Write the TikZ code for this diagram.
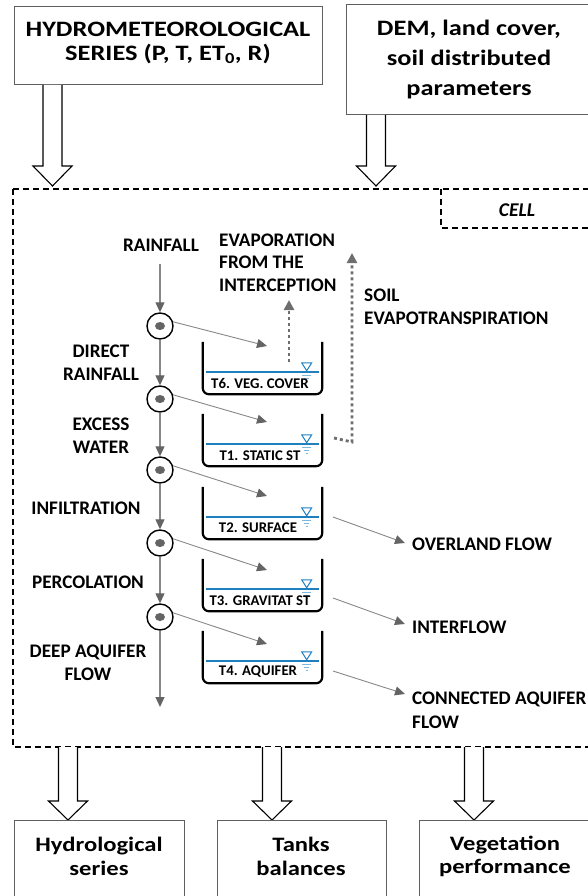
\documentclass[tikz,border=0pt]{standalone}
\usepackage{fontspec}
\setmainfont{Carlito}
\newfontfamily\widefont[FakeStretch=1.2]{Carlito}
\usetikzlibrary{arrows.meta}
\definecolor{flowgray}{RGB}{135,135,135}
\definecolor{headgray}{RGB}{100,100,100}
\definecolor{dotgray}{RGB}{110,110,110}
\definecolor{boxgray}{RGB}{95,95,95}
\definecolor{water}{RGB}{31,128,192}
\definecolor{lightwater}{RGB}{120,185,225}
\tikzset{
  lbl/.style={font=\bfseries\fontsize{19.2}{22.5}\selectfont, align=center, inner sep=0pt},
  biglbl/.style={font=\widefont\bfseries\fontsize{22}{24}\selectfont, align=center, inner sep=0pt},
  outlbl/.style={font=\widefont\bfseries\fontsize{20.5}{23.5}\selectfont, align=center, inner sep=0pt},
  tanklbl/.style={font=\bfseries\fontsize{14.8}{15}\selectfont, inner sep=0pt},
  flow/.style={draw=flowgray, line width=1.1pt, -{Triangle[length=10pt,width=9pt,color=headgray]}},
  dots/.style={draw=dotgray, line width=2.8pt, dash pattern=on 3pt off 3pt, -{Triangle[length=10pt,width=10pt,color=dotgray]}},
  junction/.style={circle, draw=black, line width=1.4pt, minimum size=26pt, inner sep=0pt, fill=white},
  tankbody/.style={minimum width=119pt, minimum height=52pt, inner sep=0pt, draw=none},
  tankwall/.style={draw=black, line width=2.2pt, rounded corners=6pt},
  hollow/.style={draw=black, line width=1.1pt, fill=white},
  iobox/.style={draw=boxgray, line width=1pt, fill=white},
  cellline/.style={draw=black, line width=1.4pt, dash pattern=on 6pt off 4pt}
}
\newcommand\hollowdown[4]{%
  \draw[hollow] (#1-9.5,#2) -- (#1-9.5,#3) -- (#1-19.5,#3) -- (#1,#4) -- (#1+19.5,#3) -- (#1+9.5,#3) -- (#1+9.5,#2);}
\newcommand\waterlevel[1]{%
  \draw[water, line width=1.8pt] ([xshift=3pt,yshift=-30pt]#1.north west) -- ([xshift=-3pt,yshift=-30pt]#1.north east);
  \draw[water, line width=1pt, fill=white] ([xshift=-20.5pt,yshift=-21pt]#1.north east) -- ([xshift=-10.5pt,yshift=-21pt]#1.north east) -- ([xshift=-15.5pt,yshift=-29pt]#1.north east) -- cycle;
  \draw[lightwater, line width=0.8pt] ([xshift=-20pt,yshift=-33.5pt]#1.north east) -- ([xshift=-11pt,yshift=-33.5pt]#1.north east);
  \draw[lightwater, line width=0.8pt] ([xshift=-18pt,yshift=-36.5pt]#1.north east) -- ([xshift=-13pt,yshift=-36.5pt]#1.north east);
  \draw[lightwater, line width=0.8pt] ([xshift=-16.5pt,yshift=-39.5pt]#1.north east) -- ([xshift=-14.5pt,yshift=-39.5pt]#1.north east);
  \draw[tankwall] (#1.north west) -- (#1.south west) -- (#1.south east) -- (#1.north east);}
\begin{document}
\begin{tikzpicture}[x=1pt,y=-1pt]
\useasboundingbox (0,0) rectangle (587,896);
% input boxes
\draw[iobox] (14,7) rectangle (322,85);
\node[biglbl] (hydro) at (168,43) {HYDROMETEOROLOGICAL\\SERIES (P, T, ET\textsubscript{0}, R)};
\draw[iobox] (346,5) rectangle (592,115);
\node[biglbl, font=\widefont\bfseries\fontsize{22}{30}\selectfont] (dem) at (469,60) {DEM, land cover,\\soil distributed\\parameters};
% hollow arrows in
\hollowdown{52.5}{85}{166}{186}
\hollowdown{376}{115}{166}{186}
% cell box
\draw[cellline] (13,189) -- (13,747) -- (600,747);
\draw[cellline] (13,189) -- (600,189);
\draw[cellline] (441,189) -- (441,228) -- (600,228);
\node[font=\bfseries\itshape\fontsize{19.5}{20}\selectfont, inner sep=0pt] (cell) at (517,210) {CELL};
% labels
\node[lbl] (rain) at (161,245) {RAINFALL};
\node[lbl] (direct) at (101,362.5) {DIRECT\\RAINFALL};
\node[lbl] (excess) at (101,435.5) {EXCESS\\WATER};
\node[lbl] (infil) at (86,508) {INFILTRATION};
\node[lbl] (perc) at (88,582) {PERCOLATION};
\node[lbl] (deep) at (88,663) {DEEP AQUIFER\\FLOW};
\node[lbl, align=left, anchor=west] (evap) at (219,262.5) {EVAPORATION\\FROM THE\\INTERCEPTION};
\node[lbl, align=left, anchor=west] (soil) at (364,307) {SOIL\\EVAPOTRANSPIRATION};
\node[lbl, anchor=west] (over) at (412,544) {OVERLAND FLOW};
\node[lbl, anchor=west] (inter) at (412,627) {INTERFLOW};
\node[lbl, align=left, anchor=west, font=\bfseries\fontsize{19.2}{24}\selectfont] (conn) at (412,710) {CONNECTED AQUIFER\\FLOW};
% tanks
\node[tankbody] (t6) at (262.5,368) {};
\node[tankbody] (t1) at (262.5,440) {};
\node[tankbody] (t2) at (262.5,513) {};
\node[tankbody] (t3) at (262.5,585) {};
\node[tankbody] (t4) at (262.5,657) {};
\foreach \t in {t6,t1,t2,t3,t4}{\waterlevel{\t}}
\node[tanklbl] at (260,383) {T6. VEG. COVER};
\node[tanklbl] at (260,456) {T1. STATIC ST};
\node[tanklbl] at (258,528) {T2. SURFACE};
\node[tanklbl] at (260,601) {T3. GRAVITAT ST};
\node[tanklbl] at (258,672) {T4. AQUIFER};
% junctions
\node[junction] (j1) at (160,326) {};
\node[junction] (j2) at (160,399) {};
\node[junction] (j3) at (160,470) {};
\node[junction] (j4) at (160,543) {};
\node[junction] (j5) at (160,617) {};
\foreach \j in {j1,j2,j3,j4,j5}{\fill[headgray] (\j) ellipse (5pt and 4pt);}
% vertical flow
\coordinate (rtop) at (160,264);
\coordinate (deepend) at (160,707);
\draw[flow] (rtop) -- (j1.north);
\draw[flow] (j1.south) -- (j2.north);
\draw[flow] (j2.south) -- (j3.north);
\draw[flow] (j3.south) -- (j4.north);
\draw[flow] (j4.south) -- (j5.north);
\draw[flow] (j5.south) -- (deepend);
% diagonal flows into tanks
\coordinate (e6) at (267,346);
\coordinate (e1) at (267,422);
\coordinate (e2) at (267,496);
\coordinate (e3) at (267,570);
\coordinate (e4) at (267,644);
\draw[flow, line width=0.9pt] (j1.18) -- (e6);
\draw[flow, line width=0.9pt] (j2.18) -- (e1);
\draw[flow, line width=0.9pt] (j3.18) -- (e2);
\draw[flow, line width=0.9pt] (j4.18) -- (e3);
\draw[flow, line width=0.9pt] (j5.18) -- (e4);
% outflows
\coordinate (o2) at (333,517);
\coordinate (o3) at (333,598);
\coordinate (o4) at (333,671);
\coordinate (f2) at (405,543);
\coordinate (f3) at (405,624);
\coordinate (f4) at (405,694);
\draw[flow, line width=0.9pt] (o2) -- (f2);
\draw[flow, line width=0.9pt] (o3) -- (f3);
\draw[flow, line width=0.9pt] (o4) -- (f4);
% evaporation
\coordinate (ev0) at (289,362);
\coordinate (ev1) at (289,300);
\draw[dots] (ev0) -- (ev1);
\coordinate (s0) at (334,438);
\coordinate (s1) at (352,442);
\coordinate (s2) at (352,253);
\draw[dots] (s0) -- (s1) -- (s2);
% outputs
\hollowdown{68}{747}{801}{820}
\hollowdown{272}{747}{801}{820}
\hollowdown{474}{747}{801}{820}
\draw[iobox] (14,820) rectangle (184,900);
\draw[iobox] (217,820) rectangle (386,900);
\draw[iobox] (419,820) rectangle (592,900);
\node[outlbl] (hs) at (99,856.5) {Hydrological\\series};
\node[outlbl] (tb) at (301,856.5) {Tanks\\balances};
\node[outlbl] (vp) at (505,856.5) {Vegetation\\performance};
\end{tikzpicture}
\end{document}
